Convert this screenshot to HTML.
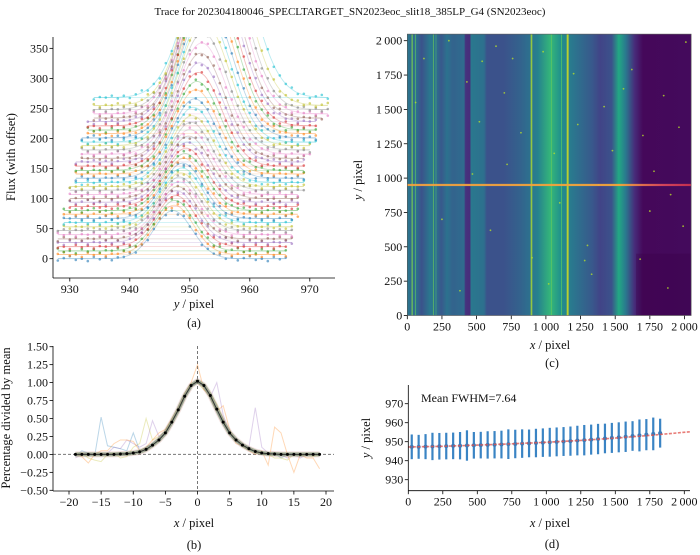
<!DOCTYPE html>
<html><head><meta charset="utf-8">
<style>
html,body{margin:0;padding:0;background:#fff;}
svg{display:block;font-family:"Liberation Serif",serif;}
text{fill:#111;}
</style></head>
<body>
<svg id="fig" width="700" height="555" viewBox="0 0 700 555" xmlns="http://www.w3.org/2000/svg">
<defs>
  <clipPath id="clipA"><rect x="53" y="37" width="282" height="241"/></clipPath>
  <clipPath id="clipB"><rect x="53" y="346" width="281" height="145"/></clipPath>
  <clipPath id="clipD"><rect x="408" y="385" width="282" height="106"/></clipPath>
  <linearGradient id="imgGrad" x1="0" x2="1" y1="0" y2="0">
    <stop offset="0" stop-color="#2a788e"/>
    <stop offset="0.015" stop-color="#31688e"/>
    <stop offset="0.03" stop-color="#2c728e"/>
    <stop offset="0.05" stop-color="#3b528b"/>
    <stop offset="0.08" stop-color="#2a788e"/>
    <stop offset="0.1" stop-color="#2d708e"/>
    <stop offset="0.12" stop-color="#38598c"/>
    <stop offset="0.14" stop-color="#2c728e"/>
    <stop offset="0.16" stop-color="#33638d"/>
    <stop offset="0.2" stop-color="#2f6c8e"/>
    <stop offset="0.205" stop-color="#46327e"/>
    <stop offset="0.22" stop-color="#472d7b"/>
    <stop offset="0.225" stop-color="#2a788e"/>
    <stop offset="0.27" stop-color="#2d708e"/>
    <stop offset="0.28" stop-color="#3b528b"/>
    <stop offset="0.34" stop-color="#3b528b"/>
    <stop offset="0.4" stop-color="#33638d"/>
    <stop offset="0.43" stop-color="#2d708e"/>
    <stop offset="0.46" stop-color="#26828e"/>
    <stop offset="0.505" stop-color="#35b779"/>
    <stop offset="0.54" stop-color="#21918c"/>
    <stop offset="0.58" stop-color="#2a788e"/>
    <stop offset="0.65" stop-color="#38598c"/>
    <stop offset="0.68" stop-color="#414487"/>
    <stop offset="0.72" stop-color="#3b528b"/>
    <stop offset="0.745" stop-color="#22a884"/>
    <stop offset="0.77" stop-color="#2a788e"/>
    <stop offset="0.8" stop-color="#472d7b"/>
    <stop offset="0.83" stop-color="#45085a"/>
    <stop offset="1" stop-color="#440a5c"/>
  </linearGradient>
  <linearGradient id="traceGrad" x1="0" x2="1" y1="0" y2="0">
    <stop offset="0" stop-color="#f0a040"/>
    <stop offset="0.75" stop-color="#f3a43a"/>
    <stop offset="0.9" stop-color="#d9485c"/>
    <stop offset="1" stop-color="#c8304f"/>
  </linearGradient>
</defs>
<text x="350" y="15" font-size="11" text-anchor="middle">Trace for 202304180046_SPECLTARGET_SN2023eoc_slit18_385LP_G4 (SN2023eoc)</text>
<g id="panelA"></g>
<g id="panelB"></g>
<g id="panelC"></g>
<g id="panelD"></g>
</svg>
<script>
const NS='http://www.w3.org/2000/svg';
const tab10=['#1f77b4','#ff7f0e','#2ca02c','#d62728','#9467bd','#8c564b','#e377c2','#7f7f7f','#bcbd22','#17becf'];

// ---------- Panel (a) data ----------
const traceOffsets=[0,7,13,20,27,33,40,47,53,60,67,74,80,87,94,100,107,114,120,127,134,141,147,154,161,167,174,181,188,194,201,208,214,221,228,234,241,248,255,268];
const traceCenters=[947.2,947.4,947.5,947.7,947.8,948.0,948.2,948.3,948.5,948.7,948.8,949.0,949.2,949.4,949.6,949.8,950.0,950.2,950.4,950.6,950.8,951.0,951.2,951.4,951.6,951.8,952.0,952.2,952.4,952.6,952.8,953.0,953.2,953.4,953.6,953.8,954.0,954.3,954.6,955.0];
const traceAmps=[80,82,84,85,86,87,88,89,90,91,92,93,95,97,100,104,108,113,118,125,132,140,148,156,165,175,185,195,205,215,225,235,245,255,265,275,285,295,305,315];
const traceSigmas=[3.2,3.2,3.2,3.3,3.3,3.3,3.3,3.3,3.4,3.4,3.4,3.4,3.5,3.5,3.5,3.6,3.6,3.6,3.7,3.7,3.8,3.8,3.9,3.9,4.0,4.0,4.1,4.1,4.2,4.2,4.3,4.3,4.4,4.4,4.5,4.5,4.6,4.6,4.7,4.8];
const traceStart=[928,928,928,928,928,928,928,928,929,929,929,929,929,930,930,930,930,930,930,931,931,931,931,931,931,932,932,932,932,932,932,933,933,933,933,934,934,934,934,934];
const traceEnd=[966,966,966,966,967,967,967,967,967,967,967,968,968,968,968,968,968,969,969,969,969,969,969,969,969,969,970,970,970,971,971,971,971,971,971,972,973,973,973,973];
const dotJitter=[2,-3,1,4,-2,0,-4,3,-1,2,-3,1,0,3,-2];
const aXTicks=[930,940,950,960,970];
const aYTicks=[0,50,100,150,200,250,300,350];

// ---------- Panel (b) data ----------
const profX=[-19,-18,-17,-16,-15,-14,-13,-12,-11,-10,-9,-8,-7,-6,-5,-4,-3,-2,-1,0,1,2,3,4,5,6,7,8,9,10,11,12,13,14,15,16,17,18,19];
const profY=[0,0,0,0,0,0,0,0.005,0.01,0.02,0.035,0.07,0.13,0.2,0.3,0.45,0.62,0.81,0.96,1.02,0.96,0.82,0.63,0.45,0.3,0.2,0.13,0.08,0.04,0.02,0.01,0.005,0,0,0,0,0,0,0];
const noiseBlue=[-0.03,0.05,0.02,-0.02,0.52,0.12,0.1,0.08,0.05,0.3,0.05,0.1,0.15,0.22,0.3,0.45,0.6,0.8,0.95,1.0,0.95,0.8,0.6,0.42,0.28,0.18,0.12,0.06,0.04,0.02,0.0,0.02,-0.05,0.0,0.02,-0.03,0.0,0.02,-0.02];
const noiseGreen=[0,0.02,-0.05,-0.08,-0.1,0,0.02,-0.05,-0.03,0.1,0.15,0.5,0.2,0.25,0.33,0.48,0.6,0.8,0.98,1.0,0.9,0.85,0.7,0.5,0.3,0.2,0.13,0.08,0.03,0.02,0.0,-0.05,-0.05,-0.08,0.0,-0.02,0.0,-0.03,0.0];
const noisePurple=[-0.05,0.0,0.02,0.0,0.0,0.02,0.1,0.08,0.2,0.15,0.1,0.15,0.47,0.25,0.32,0.45,0.6,0.78,0.95,1.0,0.95,0.8,1.0,0.55,0.3,0.2,0.15,0.1,0.65,0.1,0.02,0.0,0.0,-0.05,0.0,-0.05,0.0,0.0,0.0];
const noisePink=[0,-0.03,-0.12,0.0,0.05,0.05,0.15,0.2,0.2,0.18,0.05,0.1,0.2,0.3,0.35,0.5,0.65,0.85,1.0,1.25,0.9,0.8,0.6,0.68,0.35,0.15,0.12,0.05,0.0,0.05,-0.15,0.38,0.3,0.0,-0.25,0.0,-0.05,-0.05,-0.2];
const bXTicks=[-20,-15,-10,-5,0,5,10,15,20];
const bYTicks=[-0.5,-0.25,0,0.25,0.5,0.75,1.0,1.25,1.5];

// ---------- Panel (c) data ----------
const cTicks=[0,250,500,750,1000,1250,1500,1750,2000];
const lineX=[30,55,185,205,890,1040,1110,1150];
const lineW=[10,6,6,4,12,4,6,14];
const lineCol=['#7ad151','#5ec962','#6ccd5a','#52c569','#addc30','#7ad151','#5ec962','#dde318'];
const traceRow=950;
const speckX=[120,300,430,520,640,700,760,820,980,1060,1200,1280,1330,1420,1480,1560,1700,1780,1850,1900,1960,2010,250,380,600,900,1100,1300,1620,1750,1880,60,470,1020,1380,1990,720,1230,1680,540];
const speckY=[1870,2000,1700,1410,1960,1620,1870,1330,1920,1180,1760,400,300,1520,1200,1650,1310,1050,1600,880,1370,1990,700,180,620,420,820,510,1790,760,200,1550,1030,230,950,650,1100,1390,410,1850];

// ---------- Panel (d) data ----------
const dX=[25,75,125,175,225,275,325,375,425,475,525,575,625,675,725,775,825,875,925,975,1025,1075,1125,1175,1225,1275,1325,1375,1425,1475,1525,1575,1625,1675,1725,1775,1825];
const dY=[947.3,947.3,947.4,947.5,947.6,947.7,947.8,947.9,948.0,948.1,948.2,948.3,948.4,948.5,948.7,948.8,949.0,949.1,949.3,949.5,949.7,949.9,950.1,950.3,950.6,950.8,951.1,951.4,951.7,952.0,952.3,952.6,953.0,953.3,953.7,954.1,954.5];
const dErr=[6.5,6.3,6.6,7.2,7.0,7.0,7.0,7.2,8.0,7.0,7.0,7.2,7.2,7.3,7.8,7.5,7.5,7.3,7.5,7.5,7.6,7.6,7.6,7.7,7.8,8.0,7.9,8.0,7.8,7.9,7.9,8.0,7.8,8.4,8.2,8.6,7.6];
const fitX=[0,250,500,750,1000,1250,1500,1750,2040];
const fitY=[947.2,947.6,948.2,948.9,949.7,950.7,951.9,953.3,955.2];
const dXTicks=[0,250,500,750,1000,1250,1500,1750,2000];
const dYTicks=[930,940,950,960,970];

// ---------- helpers ----------
function mk(tag,attrs,parent){const e=document.createElementNS(NS,tag);for(const k in attrs)e.setAttribute(k,attrs[k]);parent.appendChild(e);return e;}
function fmtThousand(v){const s=String(v);return s.length>3?s.slice(0,s.length-3)+'\u2009'+s.slice(-3):s;}
function fmtMinus(s){return s.replace('-','\u2212');}

function spines(g,l,t,r,b){
  const sl=mk('line',{x1:l,y1:t,x2:l,y2:b,stroke:'#000','stroke-width':0.8},g);
  
  
  const sb=mk('line',{x1:l,y1:b,x2:r,y2:b,stroke:'#000','stroke-width':0.8},g);
  
  
}
function xTicks(g,ticks,fx,yb,fmt){
  ticks.forEach(v=>{
    const x=fx(v);
    const t=mk('line',{x1:x,y1:yb,x2:x,y2:yb+3.5,stroke:'#000','stroke-width':0.8},g);
    
    
    const tx=mk('text',{x:x,y:yb+15,'font-size':12,'text-anchor':'middle'},g);
    tx.textContent=fmt(v);
    
    
  });
}
function yTicks(g,ticks,fy,xl,fmt){
  ticks.forEach(v=>{
    const y=fy(v);
    const t=mk('line',{x1:xl-3.5,y1:y,x2:xl,y2:y,stroke:'#000','stroke-width':0.8},g);
    
    
    const tx=mk('text',{x:xl-5,y:y+4,'font-size':12,'text-anchor':'end'},g);
    tx.textContent=fmt(v);
    
    
  });
}
function label(g,txt,x,y,name,rot,italicFirst){
  const t=mk('text',{x:x,y:y,'font-size':12.5,'text-anchor':'middle'},g);
  if(rot)t.setAttribute('transform','rotate(-90 '+x+' '+y+')');
  if(italicFirst){
    const s=mk('tspan',{'font-style':'italic'},t);s.textContent=italicFirst;
    const s2=mk('tspan',{},t);s2.textContent=txt;
  } else t.textContent=txt;
  
  
}

// ---------- Panel A ----------
(function(){
  const g=document.getElementById('panelA');
  const ax=v=>53+(v-927.2)*6;
  const ay=v=>258.7-v*0.601;
  const plot=mk('g',{'clip-path':'url(#clipA)'},g);
  
  
  const model=(i,x)=>traceOffsets[i]+traceAmps[i]*Math.exp(-0.5*Math.pow((x-traceCenters[i])/traceSigmas[i],2));
  traceOffsets.forEach((off,i)=>{
    const c=tab10[i%10];
    let pts=[];
    for(let x=traceStart[i];x<=traceEnd[i];x+=0.25){
      pts.push(ax(x).toFixed(1)+','+ay(model(i,x)).toFixed(1));
    }
    const pl=mk('polyline',{points:pts.join(' '),fill:'none',stroke:c,'stroke-width':0.9,'stroke-opacity':0.3},plot);
    
    
    const base=mk('line',{x1:ax(traceStart[i]),y1:ay(off),x2:ax(traceEnd[i]),y2:ay(off),stroke:c,'stroke-width':0.7,'stroke-opacity':0.25},plot);
    
    
    let k=i;
    for(let x=traceStart[i];x<=traceEnd[i];x+=1){
      k++;
      const y=model(i,x)+dotJitter[k%dotJitter.length];
      const d=mk('circle',{cx:ax(x),cy:ay(y),r:1.3,fill:c,'fill-opacity':0.6},plot);
      
      
    }
  });
  spines(g,53,37,335,278);
  xTicks(g,aXTicks,ax,278,v=>String(v));
  yTicks(g,aYTicks,ay,53,v=>String(v));
  label(g,' / pixel',194,308,'x-axis-title',false,'y');
  label(g,'Flux (with offset)',15,157,'y-axis-title',true);
  label(g,'(a)',194,327,'panel-a-caption',false);
})();

// ---------- Panel B ----------
(function(){
  const g=document.getElementById('panelB');
  const bx=v=>69+(v+20)*6.425;
  const by=v=>490.3-(v+0.5)*71.8;
  const plot=mk('g',{'clip-path':'url(#clipB)'},g);
  
  
  const z1=mk('line',{x1:53,y1:by(0),x2:334,y2:by(0),stroke:'#777','stroke-width':1,'stroke-dasharray':'3,2'},plot);
  
  
  const z2=mk('line',{x1:bx(0),y1:346,x2:bx(0),y2:491,stroke:'#777','stroke-width':1,'stroke-dasharray':'3,2'},plot);
  
  
  const series=[[noiseBlue,'#1f77b4','noise-blue'],[noiseGreen,'#bcbd22','noise-green'],[noisePurple,'#9467bd','noise-purple'],[noisePink,'#ff7f0e','noise-orange']];
  series.forEach(s=>{
    const p=mk('polyline',{points:s[0].map((v,i)=>bx(profX[i]).toFixed(1)+','+by(v).toFixed(1)).join(' '),fill:'none',stroke:s[1],'stroke-width':1,'stroke-opacity':0.3},plot);
    
    
  });
  const pts=profY.map((v,i)=>bx(profX[i]).toFixed(1)+','+by(v).toFixed(1)).join(' ');
  const band=mk('polyline',{points:pts,fill:'none',stroke:'#d8a098','stroke-width':6,'stroke-opacity':0.3,'stroke-linejoin':'round'},plot);
  
  
  const band2=mk('polyline',{points:pts,fill:'none',stroke:'#6f8a68','stroke-width':4,'stroke-opacity':0.6,'stroke-linejoin':'round'},plot);
  
  
  const ml=mk('polyline',{points:pts,fill:'none',stroke:'#333','stroke-width':1},plot);
  
  
  profY.forEach((v,i)=>{
    const d=mk('circle',{cx:bx(profX[i]),cy:by(v),r:1.5,fill:'#000'},plot);
    
    
  });
  spines(g,53,346,334,491);
  xTicks(g,bXTicks,bx,491,v=>fmtMinus(String(v)));
  yTicks(g,bYTicks,by,53,v=>fmtMinus(v.toFixed(2)));
  label(g,' / pixel',194,527,'x-axis-title',false,'x');
  label(g,'Percentage divided by mean',10,418,'y-axis-title',true);
  label(g,'(b)',194,549,'panel-b-caption',false);
})();

// ---------- Panel C ----------
(function(){
  const g=document.getElementById('panelC');
  const cx=v=>407.3+v*0.1386;
  const cy=v=>315.5-v*0.1374;
  const bg=mk('rect',{x:cx(0),y:cy(2048),width:cx(2048)-cx(0),height:cy(0)-cy(2048),fill:'url(#imgGrad)'},g);
  
  
  const dark=mk('rect',{x:cx(1650),y:cy(450),width:cx(2048)-cx(1650),height:cy(0)-cy(450),fill:'#3a0048','fill-opacity':0.35},g);
  
  
  lineX.forEach((x,i)=>{
    const r=mk('rect',{x:cx(x),y:cy(2048),width:lineW[i]*0.1386,height:cy(0)-cy(2048),fill:lineCol[i],'fill-opacity':0.8},g);
    
    
  });
  speckX.forEach((x,i)=>{
    const s=mk('circle',{cx:cx(x),cy:cy(speckY[i]),r:0.9,fill:'#b5de2b','fill-opacity':0.8},g);
    
    
  });
  const tr=mk('rect',{x:cx(0),y:cy(traceRow+8),width:cx(2048)-cx(0),height:16*0.1374,fill:'url(#traceGrad)','fill-opacity':0.95},g);
  
  
  const fr=mk('rect',{x:cx(0),y:cy(2048),width:cx(2048)-cx(0),height:cy(0)-cy(2048),fill:'none',stroke:'#555','stroke-width':0.6},g);
  
  
  const fmt=v=>fmtThousand(v);
  xTicks(g,cTicks,cx,315.7,fmt);
  yTicks(g,cTicks,cy,407.3,fmt);
  label(g,' / pixel',550,349,'x-axis-title',false,'x');
  label(g,' / pixel',362,180,'y-axis-title',true,'y');
  label(g,'(c)',552,367,'panel-c-caption',false);
})();

// ---------- Panel D ----------
(function(){
  const g=document.getElementById('panelD');
  const dx=v=>408.3+v*0.1380;
  const dy=v=>403.7-(v-970)*1.9;
  const plot=mk('g',{'clip-path':'url(#clipD)'},g);
  
  
  dX.forEach((x,i)=>{
    const e=mk('line',{x1:dx(x),y1:dy(dY[i]-dErr[i]),x2:dx(x),y2:dy(dY[i]+dErr[i]),stroke:'#3a84c4','stroke-width':2.2},plot);
    
    
    const p=mk('circle',{cx:dx(x),cy:dy(dY[i]),r:2,fill:'#3a7ab8'},plot);
    
    
  });
  const fit=mk('polyline',{points:fitX.map((v,i)=>dx(v).toFixed(1)+','+dy(fitY[i]).toFixed(1)).join(' '),fill:'none',stroke:'#e0504a','stroke-width':1.6,'stroke-opacity':0.75,'stroke-dasharray':'3,1.5'},plot);
  
  
  spines(g,408.3,385,690,490.7);
  xTicks(g,dXTicks,dx,490.7,v=>fmtThousand(v));
  yTicks(g,dYTicks,dy,408.3,v=>String(v));
  const ann=mk('text',{x:421,y:402,'font-size':12},g);
  ann.textContent='Mean FWHM=7.64';
  
  
  label(g,' / pixel',550,527,'x-axis-title',false,'x');
  label(g,' / pixel',370,438,'y-axis-title',true,'y');
  label(g,'(d)',552,548,'panel-d-caption',false);
})();
</script>
</body></html>
